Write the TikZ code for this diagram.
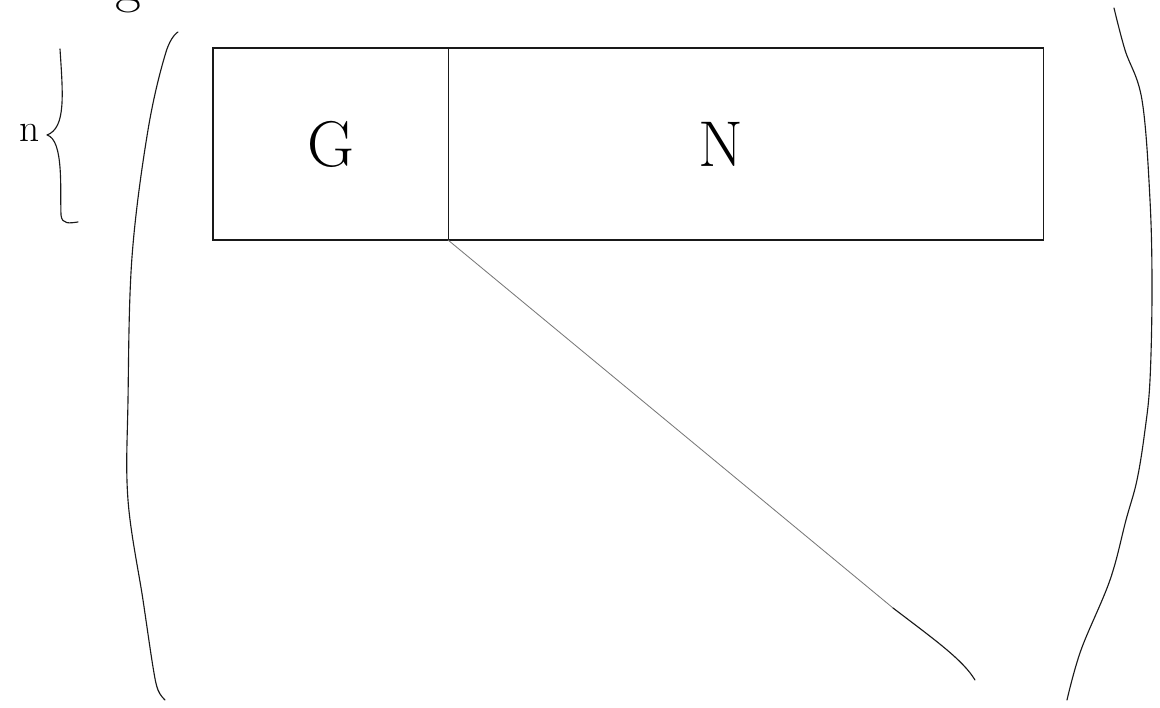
\documentclass[tikz,border=0pt]{standalone}
\usepackage{tikz}
\usetikzlibrary{positioning, calc}
\definecolor{inkdark}{RGB}{25,25,25}
\definecolor{inkgrey}{RGB}{120,120,120}
\tikzset{
  cell/.style={rectangle, draw=inkdark, line width=0.8pt,
    inner sep=0pt, outer sep=0pt, minimum height=4.8cm,
    font=\fontsize{46}{48}\selectfont},
  bracket/.style={draw=inkdark, line width=0.8pt, line cap=round, line join=round},
  diag/.style={draw=inkgrey, line width=0.6pt, line cap=round},
  lbl/.style={font=\fontsize{28}{30}\selectfont, inner sep=0pt}
}

\begin{document}
\begin{tikzpicture}[x=0.025cm, y=-0.025cm]
  \useasboundingbox (0,0) rectangle (1160,708);
  \clip (0,0) rectangle (1160,708);

  % cut-off letter at the top
  \node[lbl, font=\fontsize{40}{42}\selectfont, anchor=base] (gtop) at (128,2) {g};

  % Blocks
  \node[cell, minimum width=5.875cm, anchor=north west] (G) at (213,48) {G};
  \node[cell, minimum width=14.875cm, right=0pt of G] (N) {\hspace*{-1.25cm}N};

  % Brace with row count
  \coordinate (btop) at (60,49);
  \coordinate (bbot) at (78,222);
  \node[lbl, anchor=east] (n) at (40,133) {n};
  \draw[bracket] (btop) .. controls (63,95) and (66,128) .. (47,135)
    .. controls (64,140) and (60,190) .. (61,215)
    .. controls (62,225) and (70,223) .. (bbot);

  % Matrix delimiters
  \draw[bracket] plot[smooth, tension=0.6] coordinates
    {(178,32) (166,52) (148,130) (132,257) (128,400) (128,500)
     (143,600) (153,667) (158,690) (165,700)};
  \draw[bracket] plot[smooth, tension=0.6] coordinates
    {(1114,8) (1125,50) (1142,100) (1150,200) (1152,290) (1150,380)
     (1145,430) (1137,480) (1126,520) (1110,580) (1081,650) (1067,700)};

  % Diagonal
  \coordinate (dmid) at (893,608);
  \coordinate (dend) at (975,680);
  \draw[diag] (G.south east) -- (dmid);
  \draw[bracket] (dmid) .. controls (935,640) and (963,660) .. (dend);
\end{tikzpicture}
\end{document}
